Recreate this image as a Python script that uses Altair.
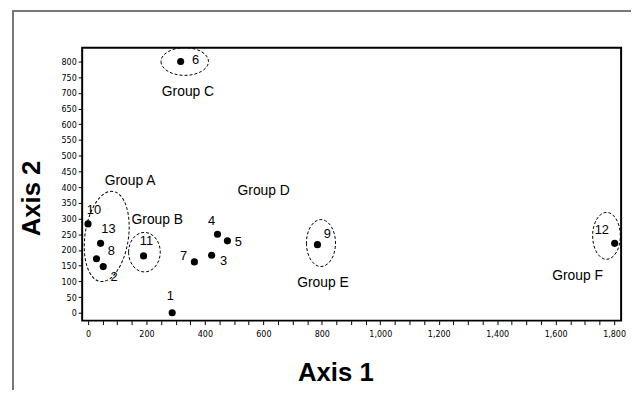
import altair as alt
import pandas as pd

# ---- data ----
point_ids = ["1", "2", "3", "4", "5", "6", "7", "8", "9", "10", "11", "12", "13"]
axis1_vals = [288, 52, 423, 443, 477, 317, 364, 29, 785, 0, 190, 1802, 43]
axis2_vals = [0, 147, 183, 250, 229, 800, 162, 172, 217, 283, 181, 221, 221]

group_names = ["Group A", "Group B", "Group C", "Group D", "Group E", "Group F"]
group_label_x = [144, 237, 342, 601, 804, 1675]
group_label_y = [420, 295, 702, 389, 94, 118]

ellipse_groups = ["A", "B", "C", "E", "F"]
ellipse_cx = [64, 193, 331, 797, 1774]
ellipse_cy = [243, 193, 800, 222, 245]

x_ticks = list(range(0, 1801, 50))
y_ticks = list(range(0, 801, 50))

# ---- styles (pixel offsets / ellipse shapes) ----
label_offsets = {
    "1": (-2, -17), "2": (11, 11), "3": (12, 6), "4": (-6, -13), "5": (11, 1),
    "6": (15, -1), "7": (-11, -6), "8": (15, -8), "9": (10, -11), "10": (6, -14),
    "11": (3, -15), "12": (-13, -13), "13": (8, -14),
}
# half width, half height (px), rotation (deg)
ellipse_style = {
    "A": (22, 46, 8), "B": (16, 20, 0), "C": (24, 14, 0), "E": (14.7, 23.7, 0), "F": (14, 23.7, 0),
}

FONT = "Liberation Sans"
TICKFONT = "'Liberation Sans Narrow', 'DejaVu Sans Condensed', 'Liberation Sans', Arial"

pts = pd.DataFrame({"id": point_ids, "a1": axis1_vals, "a2": axis2_vals})
grp = pd.DataFrame({"name": group_names, "a1": group_label_x, "a2": group_label_y})
ell = pd.DataFrame({"g": ellipse_groups, "a1": ellipse_cx, "a2": ellipse_cy})

xs = alt.Scale(domain=[-20, 1824], nice=False, zero=False)
ys = alt.Scale(domain=[-25, 844], nice=False, zero=False)

x_axis = alt.Axis(
    values=x_ticks,
    labelExpr="datum.value % 200 == 0 ? format(datum.value, ',') : ''",
    labelOverlap=False, labelFont=TICKFONT, labelFontSize=9, labelColor="black",
    labelPadding=5, tickSize=4, tickColor="black", domain=False, grid=False,
    title="Axis 1", titleFont=FONT, titleFontSize=26, titleFontWeight="bold",
    titleColor="black", titleX=256, titleY=53, titleAlign="center",
    titleBaseline="middle",
)
y_axis = alt.Axis(
    values=y_ticks, labelOverlap=False, labelFont=TICKFONT, labelFontSize=9,
    labelColor="black", labelPadding=2, tickSize=4, tickColor="black",
    domain=False, grid=False,
    title="Axis 2", titleFont=FONT, titleFontSize=26, titleFontWeight="bold",
    titleColor="black", titleX=-51, titleY=152, titleAlign="center",
    titleBaseline="middle", titleAngle=-90,
)


def xe():
    return alt.X("a1:Q", scale=xs, axis=x_axis)


def ye():
    return alt.Y("a2:Q", scale=ys, axis=y_axis)


points = alt.Chart(pts).mark_circle(size=52, color="black", opacity=1).encode(x=xe(), y=ye())

layers = [points]

for pid in point_ids:
    dx, dy = label_offsets[pid]
    layers.append(
        alt.Chart(pts).transform_filter(alt.datum.id == pid)
        .mark_text(dx=dx, dy=dy, fontSize=13, font=FONT, color="black")
        .encode(x=xe(), y=ye(), text="id:N")
    )

layers.append(
    alt.Chart(grp).mark_text(fontSize=14, font=FONT, color="black")
    .encode(x=xe(), y=ye(), text="name:N")
)

for g in ellipse_groups:
    a, b, ang = ellipse_style[g]
    m = max(a, b)
    rx, ry = a / m, b / m
    path = f"M {-rx:.4f} 0 A {rx:.4f} {ry:.4f} 0 1 0 {rx:.4f} 0 A {rx:.4f} {ry:.4f} 0 1 0 {-rx:.4f} 0 Z"
    layers.append(
        alt.Chart(ell).transform_filter(alt.datum.g == g)
        .mark_point(shape=path, size=(2 * m) ** 2, angle=ang, filled=False,
                    stroke="black", strokeWidth=1, strokeDash=[3, 2], opacity=1)
        .encode(x=xe(), y=ye())
    )

# outer figure border (left and top), decoration only
layers.append(
    alt.Chart(pts).mark_rule(color="#777777", strokeWidth=1.5)
    .encode(x=alt.value(-70), y=alt.value(-38), y2=alt.value(360))
)
layers.append(
    alt.Chart(pts).mark_rule(color="#777777", strokeWidth=1.5)
    .encode(x=alt.value(-70), x2=alt.value(560), y=alt.value(-37))
)

chart = alt.layer(*layers).properties(
    width=545, height=276,
    autosize=alt.AutoSizeParams(type="none"),
    padding={"left": 75, "top": 38, "right": 10, "bottom": 68},
    background="white",
).configure_view(stroke="black", strokeWidth=2)

chart.save("out.html", embed_options={"renderer": "svg", "actions": False})
